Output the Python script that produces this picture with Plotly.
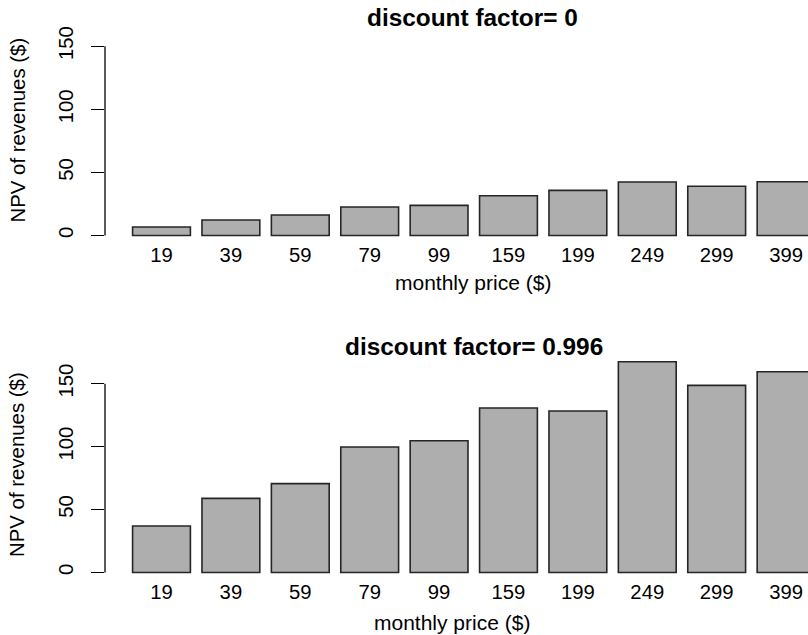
import plotly.graph_objects as go

# ---- data ----
prices = ["19", "39", "59", "79", "99", "159", "199", "249", "299", "399"]
npv_df0 = [6.7, 12.3, 16.2, 22.6, 23.9, 31.5, 35.8, 42.4, 39.0, 42.6]
npv_df0996 = [36.9, 58.9, 70.6, 99.7, 104.7, 130.7, 128.3, 167.5, 148.7, 159.5]
y_ticks = [0, 50, 100, 150]
titles = ["discount factor= 0", "discount factor= 0.996"]
xlab = "monthly price ($)"
ylab = "NPV of revenues ($)"

W, H = 808, 635
FONT = "Liberation Sans, Arial, Helvetica, sans-serif"
BAR_FILL = "#AEAEAE"
BAR_LINE = "#262626"

def py(pix):
    return 1 - pix / H

def px(pix):
    return pix / W

fig = go.Figure()
fig.add_trace(go.Bar(x=prices, y=npv_df0, xaxis="x", yaxis="y",
                     marker=dict(color=BAR_FILL, line=dict(color=BAR_LINE, width=1.6)),
                     showlegend=False, hoverinfo="x+y"))
fig.add_trace(go.Bar(x=prices, y=npv_df0996, xaxis="x2", yaxis="y2",
                     marker=dict(color=BAR_FILL, line=dict(color=BAR_LINE, width=1.6)),
                     showlegend=False, hoverinfo="x+y"))

x_left = 105.0
xrange = [-0.814, 9.316]
yrange = [-6.7, 173.7]

xaxis_common = dict(type="category", range=xrange, domain=[px(x_left), 1.0],
                    showgrid=False, zeroline=False, showline=False, ticks="",
                    tickfont=dict(family=FONT, size=20.3, color="#000"),
                    ticklabelstandoff=-3, fixedrange=True)
yaxis_common = dict(range=yrange, tickvals=y_ticks, tickangle=-90,
                    showgrid=False, zeroline=False, showline=False,
                    ticks="outside", ticklen=13, tickwidth=1.3, tickcolor="#000",
                    tickfont=dict(family=FONT, size=20.3, color="#000"),
                    ticklabelstandoff=10, fixedrange=True)

fig.update_layout(
    width=W, height=H,
    margin=dict(l=0, r=0, t=0, b=0),
    paper_bgcolor="white", plot_bgcolor="white",
    bargap=0.1667,
    xaxis=dict(**xaxis_common, anchor="y"),
    yaxis=dict(**yaxis_common, anchor="x", domain=[py(243.96), py(16.3)]),
    xaxis2=dict(**xaxis_common, anchor="y2"),
    yaxis2=dict(**yaxis_common, anchor="x2", domain=[py(580.93), py(353.9)]),
)

# R-style axis lines spanning only the tick range
for yref in ["y", "y2"]:
    fig.add_shape(type="line", xref="paper", yref=yref,
                  x0=px(x_left), x1=px(x_left), y0=y_ticks[0], y1=y_ticks[-1],
                  line=dict(color="#000", width=1.3))

ann = [
    (titles[0], px(472.5), py(17), 24.4, True, 0),
    (titles[1], px(474), py(346), 24.4, True, 0),
    (xlab, px(473), py(282), 21, False, 0),
    (xlab, px(452), py(622), 21, False, 0),
    (ylab, px(17), py(130.5), 20.4, False, -90),
    (ylab, px(17), py(465), 20.4, False, -90),
]
for text, x, y, size, bold, ang in ann:
    fig.add_annotation(text=f"<b>{text}</b>" if bold else text,
                       x=x, y=y, xref="paper", yref="paper",
                       xanchor="center", yanchor="middle", showarrow=False,
                       textangle=ang,
                       font=dict(family=FONT, size=size, color="#000"))

fig.write_html("out.html",
               config={"displayModeBar": False},
               post_script="document.body.style.margin='0';document.body.style.overflow='hidden';")
